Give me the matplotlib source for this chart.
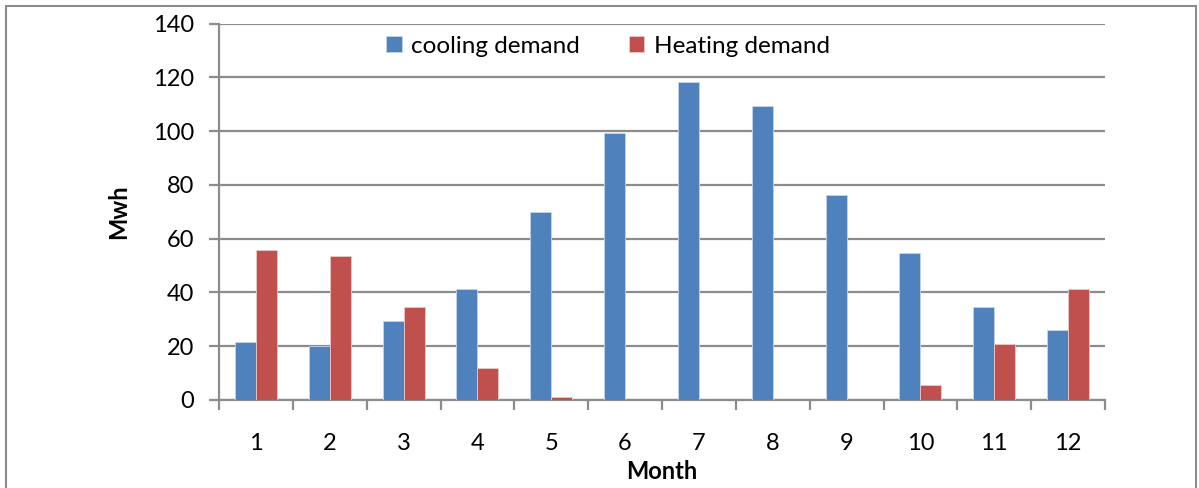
import numpy as np
import matplotlib.pyplot as plt
from matplotlib.patches import Rectangle

months = [1, 2, 3, 4, 5, 6, 7, 8, 9, 10, 11, 12]
cooling = [21.7, 20.0, 29.2, 41.2, 70.0, 99.4, 118.4, 109.5, 76.3, 54.7, 34.5, 26.0]
heating = [55.9, 53.5, 34.5, 11.8, 1.1, 0, 0, 0, 0, 5.7, 21.0, 41.3]

plt.rcParams['font.family'] = ['Lato', 'DejaVu Sans']

W, H = 1199, 488
fig = plt.figure(figsize=(W / 100, H / 100), dpi=100)
ax = fig.add_axes([219 / W, 1 - 400 / H, (1105 - 219) / W, (400 - 23.5) / H])

# outer chart border
fig.patches.append(Rectangle((6 / W, -0.1), (1196 - 6) / W, 1.1 - 6 / H,
                             transform=fig.transFigure, fill=False,
                             edgecolor='#8c8c8c', linewidth=1.5))

x = np.arange(len(months)) + 1
bw = 0.285
ax.bar(x - bw / 2, cooling, bw, color='#4f81bd', edgecolor='#c6d5ea', linewidth=0.6,
       label='cooling demand', zorder=3)
ax.bar(x + bw / 2, heating, bw, color='#c0504d', edgecolor='#ecc8c7', linewidth=0.6,
       label='Heating demand', zorder=3)

ax.set_xlim(0.5, 12.5)
ax.set_ylim(0, 140)
ax.set_yticks(np.arange(0, 141, 20))
ax.yaxis.grid(True, color='#8c8c8c', linewidth=1.6, zorder=0)

ax.set_xticks(np.arange(0.5, 13, 1))
ax.set_xticklabels([])
ax.set_xticks(x, minor=True)
ax.set_xticklabels([str(m) for m in months], minor=True)
ax.tick_params(axis='x', which='major', direction='out', length=7, width=1.6, color='#8c8c8c')
ax.tick_params(axis='x', which='minor', length=0, pad=24, labelsize=17)
ax.tick_params(axis='y', direction='out', length=7, width=1.6, color='#8c8c8c', labelsize=17, pad=11)

for s in ['top', 'right']:
    ax.spines[s].set_visible(False)
for s in ['left', 'bottom']:
    ax.spines[s].set_color('#8c8c8c')
    ax.spines[s].set_linewidth(1.6)

ax.set_ylabel('Mwh', fontsize=17, fontweight='bold', labelpad=16)
ax.set_xlabel('Month', fontsize=17, fontweight='bold', labelpad=4)

leg = ax.legend(loc='center', bbox_to_anchor=(0.439, 0.94), ncol=2, frameon=False,
                fontsize=17.5, handlelength=0.65, handleheight=0.65, handletextpad=0.4,
                columnspacing=2.0)

fig.savefig('out.png', dpi=100)
